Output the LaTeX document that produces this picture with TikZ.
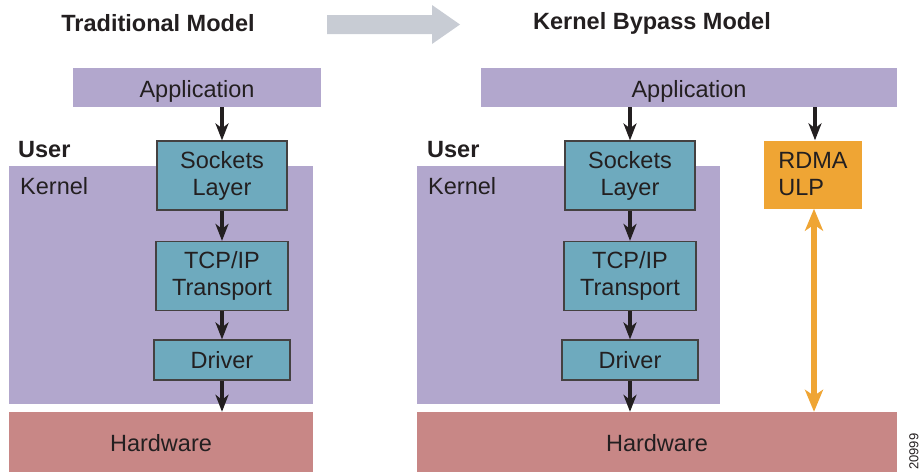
\documentclass[tikz,border=0pt]{standalone}
\usepackage{fontspec}
\setmainfont{Liberation Sans}
\usetikzlibrary{arrows.meta}
\definecolor{layer-purple}{RGB}{178,167,205}
\definecolor{layer-teal}{RGB}{110,170,190}
\definecolor{layer-red}{RGB}{200,135,134}
\definecolor{layer-orange}{RGB}{239,165,52}
\definecolor{layer-gray}{RGB}{200,204,212}
\definecolor{ink}{RGB}{35,31,32}
\tikzset{
    plane-box/.style = {fill=#1, rectangle, inner sep=0pt, text=ink},
    flat-text/.style = {text height=19pt, text depth=0pt},
    stack-box/.style = {draw=ink!85, fill=layer-teal, line width=1.2pt, rectangle, inner sep=0pt, align=center, text=ink},
    side-label/.style = {anchor=west, inner sep=0pt, text=ink},
    head-label/.style = {inner sep=0pt, text=ink, font=\fontsize{23.5}{27}\selectfont\bfseries},
    flow/.style = {draw=ink, line width=3.2pt, -{Stealth[length=17pt, width=13pt, inset=5pt]}},
}

\begin{document}
\begin{tikzpicture}[x=1pt, y=-1pt, font=\fontsize{23.5}{27}\selectfont]
\useasboundingbox (0,0) rectangle (920,472);
% titles
\node[head-label] (title-left) at (158,23) {Traditional Model};
\node[head-label] (title-right) at (652,23) {Kernel Bypass Model};
\fill[layer-gray] (327,15) -- (432,15) -- (432,5) -- (460,24.5) -- (432,44) -- (432,34) -- (327,34) -- cycle;

% traditional model
\node[plane-box=layer-purple, minimum width=304pt, minimum height=238pt] (kernel-left) at (161,285) {};
\node[plane-box=layer-purple, flat-text, minimum width=248pt, minimum height=39pt] (app-left) at (197,87.5) {Application};
\node[plane-box=layer-red, flat-text, minimum width=304pt, minimum height=60pt] (hw-left) at (161,442) {Hardware};
\node[side-label, font=\fontsize{23.5}{27}\selectfont\bfseries] (user-left) at (18,150) {User};
\node[side-label] (kname-left) at (20,186) {Kernel};
\node[stack-box, minimum width=130pt, minimum height=69pt] (sockets-left) at (222,175.5) {Sockets\\Layer};
\node[stack-box, minimum width=132pt, minimum height=69pt] (tcp-left) at (222,276) {TCP/IP\\Transport};
\node[stack-box, minimum width=136pt, minimum height=40pt] (driver-left) at (222,360) {Driver};
\draw[flow] (sockets-left.north |- app-left.south) -- (sockets-left.north);
\draw[flow] (sockets-left.south) -- (tcp-left.north);
\draw[flow] (tcp-left.south) -- (driver-left.north);
\draw[flow] (driver-left.south) -- (driver-left.south |- hw-left.north);

% kernel bypass model
\node[plane-box=layer-purple, minimum width=303pt, minimum height=238pt] (kernel-right) at (568.5,285) {};
\node[plane-box=layer-purple, flat-text, minimum width=416pt, minimum height=39pt] (app-right) at (689,87.5) {Application};
\node[plane-box=layer-red, flat-text, minimum width=480pt, minimum height=60pt] (hw-right) at (657,442) {Hardware};
\node[side-label, font=\fontsize{23.5}{27}\selectfont\bfseries] (user-right) at (427,150) {User};
\node[side-label] (kname-right) at (428,186) {Kernel};
\node[stack-box, minimum width=130pt, minimum height=69pt] (sockets-right) at (630,175.5) {Sockets\\Layer};
\node[stack-box, minimum width=132pt, minimum height=69pt] (tcp-right) at (630,276) {TCP/IP\\Transport};
\node[stack-box, minimum width=136pt, minimum height=40pt] (driver-right) at (630,360) {Driver};
\node[plane-box=layer-orange, minimum width=98pt, minimum height=68pt, align=left] (rdma) at (813,174.5) {RDMA\\ULP};
\draw[flow] (sockets-right.north |- app-right.south) -- (sockets-right.north);
\draw[flow] (sockets-right.south) -- (tcp-right.north);
\draw[flow] (tcp-right.south) -- (driver-right.north);
\draw[flow] (driver-right.south) -- (driver-right.south |- hw-right.north);
\draw[flow] ([xshift=2pt]rdma.north |- app-right.south) -- ([xshift=2pt]rdma.north);
\draw[draw=layer-orange, line width=6pt, {Stealth[length=22pt, width=18pt, inset=6pt]}-{Stealth[length=22pt, width=18pt, inset=6pt]}] ([xshift=1pt]rdma.south) -- ([xshift=1pt]rdma.south |- hw-right.north);

\node[rotate=90, anchor=west, inner sep=0pt, text=ink, font=\fontsize{13}{13}\selectfont] (fig-id) at (914,470) {20999};
\end{tikzpicture}
\end{document}
